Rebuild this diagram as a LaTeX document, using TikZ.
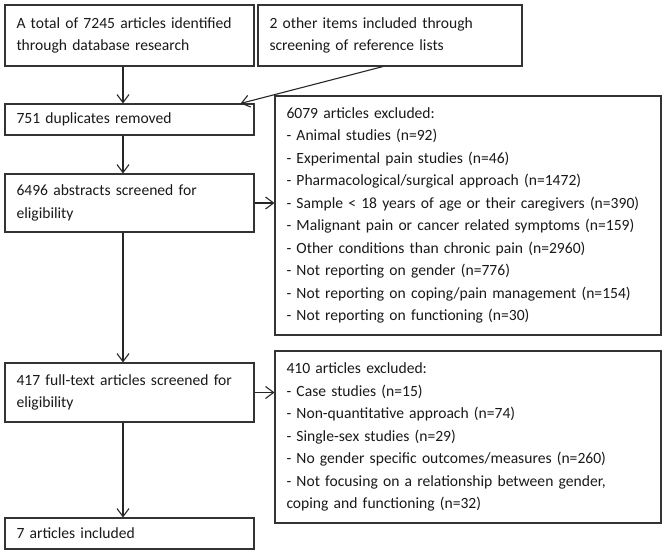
\documentclass[tikz,border=0pt]{standalone}
\usepackage{fontspec}
\setmainfont{Carlito}
\usetikzlibrary{arrows.meta}
\tikzset{
  box/.style={draw=black!80, line width=1.1pt, align=left, inner xsep=11.5pt, inner ysep=0pt,
    font=\fontsize{15.6}{22.5}\selectfont, text=black!90},
  arr/.style={draw=black!85, line width=1.1pt, -{Straight Barb[length=8pt,width=12pt,line width=1.1pt]}},
}
\begin{document}
\begin{tikzpicture}[x=1pt,y=-1pt]
\useasboundingbox (0,0) rectangle (663,553);
\node[box, text width=226pt, minimum height=61pt] (b1) at (129.5,35.5)
  {A total of 7245 articles identified\\through database research};
\node[box, text width=241pt, minimum height=61pt] (b2) at (390,35.5)
  {2 other items included through\\screening of reference lists};
\node[box, text width=226pt, minimum height=31pt] (b3) at (129.5,119.5)
  {751 duplicates removed};
\node[box, text width=363pt, minimum height=239pt] (x1) at (468,215.5)
  {6079 articles excluded:\\
   - Animal studies (n=92)\\
   - Experimental pain studies (n=46)\\
   - Pharmacological/surgical approach (n=1472)\\
   - Sample < 18 years of age or their caregivers (n=390)\\
   - Malignant pain or cancer related symptoms (n=159)\\
   - Other conditions than chronic pain (n=2960)\\
   - Not reporting on gender (n=776)\\
   - Not reporting on coping/pain management (n=154)\\
   - Not reporting on functioning (n=30)};
\node[box, text width=226pt, minimum height=58pt] (b4) at (129.5,203)
  {6496 abstracts screened for\\eligibility};
\node[box, text width=226pt, minimum height=59pt] (b5) at (129.5,392.5)
  {417 full-text articles screened for\\eligibility};
\node[box, text width=363pt, minimum height=172pt] (x2) at (468,437)
  {410 articles excluded:\\
   - Case studies (n=15)\\
   - Non-quantitative approach (n=74)\\
   - Single-sex studies (n=29)\\
   - No gender specific outcomes/measures (n=260)\\
   - Not focusing on a relationship between gender,\\
   coping and functioning (n=32)};
\node[box, text width=226pt, minimum height=31pt] (b6) at (129.5,533.5)
  {7 articles included};
\draw[arr] ([xshift=-6.5pt]b1.south) -- ([xshift=-6.5pt]b3.north);
\draw[arr] ([xshift=-7pt]b2.south) -- ([xshift=-14pt]b3.north east);
\draw[arr] ([xshift=-6.5pt]b3.south) -- ([xshift=-6.5pt]b4.north);
\draw[arr] (b4.east) -- (b4.east -| x1.west);
\draw[arr] ([xshift=-6.5pt]b4.south) -- ([xshift=-6.5pt]b5.north);
\draw[arr] (b5.east) -- (b5.east -| x2.west);
\draw[arr] ([xshift=-6.5pt]b5.south) -- ([xshift=-6.5pt]b6.north);
\end{tikzpicture}
\end{document}
